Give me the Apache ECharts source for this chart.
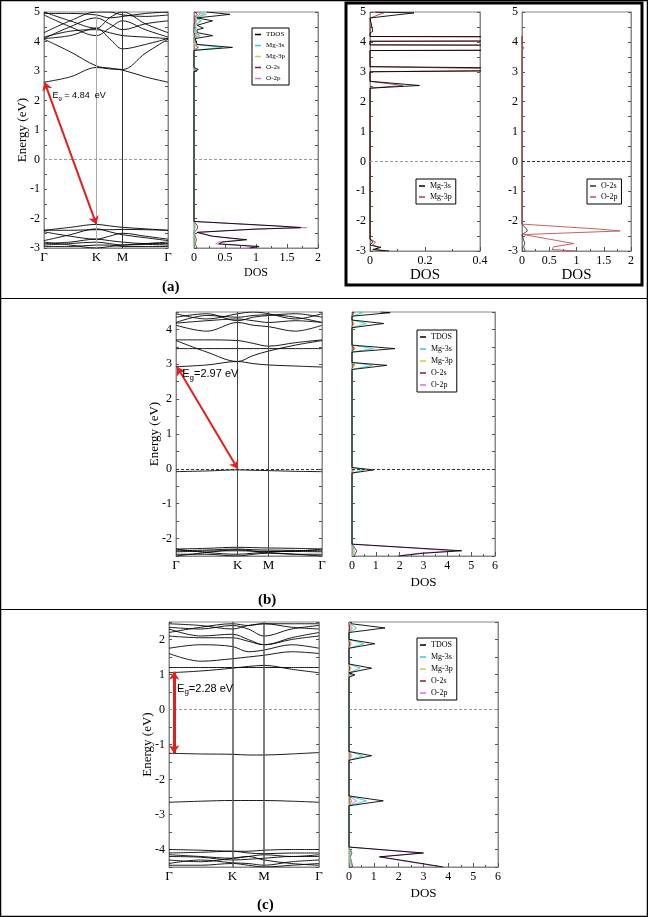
<!DOCTYPE html>
<html>
<head>
<meta charset="utf-8">
<script src="https://cdn.jsdelivr.net/npm/echarts@6/dist/echarts.min.js"></script>
<style>
  html, body { margin: 0; padding: 0; background: #fff; }
  #chart { width: 648px; height: 917px; }
</style>
</head>
<body>
<div id="chart"></div>
<script>
// ── k-path Γ–K–M–Γ (hexagonal BZ, |ΓK| = 1) ────────────────────────────
const kLabels = ["Γ", "K", "M", "Γ"];
const kTicks = [0, 1, 1.5, 2.366];
const kSamples = [0, 0.5, 1, 1.25, 1.5, 1.933, 2.366];

// ── (a) bands, energies (eV) at kSamples ───────────────────────────────
const bandsA = [
  [2.62, 2.8, 3.12, 3.07, 3.03, 2.8, 2.62],
  [4.08, 3.65, 3.17, 3.1, 3.05, 3.6, 4.08],
  [4.1, 4.2, 4.45, 4.1, 3.75, 3.9, 4.1],
  [4.15, 4.35, 4.4, 4.3, 4.2, 4.15, 4.1],
  [4.1, 4.5, 4.8, 4.6, 4.4, 4.6, 4.7],
  [4.9, 4.5, 4.2, 4.45, 4.7, 4.4, 4.15],
  [5.0, 4.7, 4.45, 4.8, 5.0, 4.6, 4.3],
  [4.95, 4.95, 4.9, 4.8, 4.85, 4.95, 5.0],
  [4.3, 4.7, 5.0, 5.0, 4.9, 4.85, 4.9],
  [-2.4, -2.3, -2.2, -2.25, -2.3, -2.35, -2.4],
  [-2.4, -2.4, -2.38, -2.38, -2.37, -2.38, -2.4],
  [-2.75, -2.55, -2.35, -2.45, -2.55, -2.65, -2.75],
  [-2.45, -2.6, -2.7, -2.6, -2.5, -2.6, -2.7],
  [-2.85, -2.8, -2.7, -2.75, -2.8, -2.85, -2.85],
  [-2.9, -2.85, -2.8, -2.85, -2.9, -2.88, -2.9],
  [-2.95, -2.95, -2.9, -2.9, -2.95, -2.95, -2.95],
  [-2.8, -2.9, -3.0, -2.95, -2.9, -2.85, -2.8],
];
const gapA = [[0.01, 2.62], [1, -2.2]];

// ── (b) bands ──────────────────────────────────────────────────────────
const bandsB = [
  [2.93, 2.98, 3.08, 3.02, 2.98, 2.95, 2.92],
  [3.68, 3.35, 3.08, 3.25, 3.38, 3.55, 3.68],
  [3.45, 3.45, 3.45, 3.45, 3.45, 3.45, 3.45],
  [3.7, 3.7, 3.68, 3.6, 3.52, 3.62, 3.7],
  [4.12, 3.95, 4.2, 4.12, 4.08, 3.95, 4.12],
  [4.18, 4.25, 4.3, 4.25, 4.2, 4.25, 4.2],
  [4.2, 4.4, 4.35, 4.4, 4.42, 4.35, 4.2],
  [4.35, 4.45, 4.25, 4.35, 4.4, 4.45, 4.35],
  [4.45, 4.3, 4.45, 4.5, 4.45, 4.3, 4.45],
  [-0.08, -0.06, -0.03, -0.04, -0.05, -0.07, -0.08],
  [-2.3, -2.28, -2.25, -2.26, -2.27, -2.28, -2.3],
  [-2.35, -2.33, -2.3, -2.32, -2.33, -2.34, -2.35],
  [-2.5, -2.4, -2.32, -2.36, -2.4, -2.45, -2.5],
  [-2.3, -2.4, -2.45, -2.42, -2.38, -2.36, -2.3],
  [-2.45, -2.45, -2.5, -2.45, -2.42, -2.45, -2.45],
  [-2.38, -2.36, -2.35, -2.36, -2.37, -2.37, -2.38],
];
const gapB = [[0.02, 2.92], [1, 0]];

// ── (c) bands ──────────────────────────────────────────────────────────
const bandsC = [
  [1.05, 1.1, 1.18, 1.23, 1.26, 1.15, 1.05],
  [1.2, 1.2, 1.2, 1.2, 1.2, 1.2, 1.2],
  [1.6, 1.38, 1.45, 1.5, 1.55, 1.65, 1.6],
  [1.75, 1.85, 1.8, 1.65, 1.7, 1.85, 1.75],
  [2.1, 2.05, 2.05, 1.95, 1.85, 2.0, 2.1],
  [2.3, 2.1, 2.15, 2.0, 1.85, 2.05, 2.2],
  [2.35, 2.3, 2.4, 2.3, 2.1, 2.3, 2.4],
  [2.2, 2.35, 2.45, 2.4, 2.45, 2.35, 2.3],
  [2.45, 2.4, 2.3, 2.4, 2.45, 2.45, 2.45],
  [-1.25, -1.27, -1.28, -1.3, -1.3, -1.27, -1.23],
  [-2.65, -2.62, -2.6, -2.6, -2.6, -2.62, -2.65],
  [-4.0, -4.02, -4.05, -4.05, -4.02, -4.0, -4.0],
  [-4.1, -4.08, -4.05, -4.1, -4.12, -4.1, -4.1],
  [-4.15, -4.2, -4.25, -4.2, -4.15, -4.2, -4.15],
  [-4.2, -4.22, -4.3, -4.28, -4.25, -4.2, -4.2],
  [-4.3, -4.35, -4.25, -4.2, -4.3, -4.4, -4.45],
  [-4.4, -4.3, -4.38, -4.4, -4.45, -4.35, -4.3],
  [-4.45, -4.45, -4.4, -4.45, -4.5, -4.45, -4.4],
];
const gapC = [[0.08, 1.08], [0.08, -1.25]];

// ── (a) DOS ────────────────────────────────────────────────────────────
const eA = [-3.0, -2.95, -2.86, -2.8, -2.72, -2.6, -2.47, -2.36, -2.31, -2.26, -2.1,
  2.55, 2.6, 2.65, 2.98, 3.05, 3.12, 3.7, 3.8, 3.9, 4.1, 4.2, 4.3, 4.4, 4.45, 4.55, 4.7, 4.8, 4.92, 5.0];
const tdosA = [0.9, 1.05, 0.4, 0.45, 0.85, 0.3, 0.05, 1.0, 1.72, 1.4, 0,
  0, 0.03, 0, 0, 0.07, 0, 0, 0.62, 0.05, 0.02, 0.3, 0.05, 0.05, 0.15, 0.05, 0.3, 0.05, 0.58, 0.2];
const mg3sA = [0, 0, 0, 0, 0, 0, 0, 0.01, 0.02, 0.02, 0,
  0, 0.02, 0, 0, 0.04, 0, 0, 0.45, 0.03, 0.01, 0.1, 0.02, 0.02, 0.05, 0.02, 0.12, 0.02, 0.2, 0.05];
const mg3pA = [0.02, 0.03, 0.01, 0.01, 0.02, 0.01, 0, 0.01, 0.02, 0.01, 0,
  0, 0.01, 0, 0, 0.02, 0, 0, 0.05, 0.01, 0, 0.08, 0.01, 0.01, 0.05, 0.01, 0.1, 0.01, 0.15, 0.05];
const o2sA = [0.05, 0.05, 0.02, 0.02, 0.04, 0.02, 0, 0.05, 0.08, 0.06, 0,
  0, 0, 0, 0, 0.01, 0, 0, 0.06, 0.01, 0, 0.02, 0, 0, 0.01, 0, 0.02, 0, 0.05, 0.02];
const o2pA = [0.85, 1.0, 0.35, 0.4, 0.8, 0.28, 0.04, 0.95, 1.82, 1.37, 0,
  0, 0, 0, 0, 0.01, 0, 0, 0.08, 0.01, 0, 0.05, 0, 0, 0.02, 0, 0.05, 0, 0.1, 0.05];

// (a) boxed: Mg and O projected DOS
const eMg = [-3.0, -2.95, -2.88, -2.8, -2.7, -2.6, 2.45, 2.54, 2.68, 3.0, 3.07, 3.17,
  3.71, 3.8, 3.9, 4.02, 4.1, 4.18, 4.3, 4.35, 4.8, 4.97, 5.0];
const mg3sR = [0.07, 0.01, 0.04, 0.0, 0.01, 0, 0, 0.18, 0, 0, 1.2, 0,
  0, 6, 0, 0, 6, 0, 0, 0.01, 0, 0.16, 0.02];
const mg3pR = [0.05, 0.02, 0.03, 0.01, 0.02, 0, 0, 0.12, 0, 0, 0.7, 0,
  0, 3, 0, 0, 3, 0, 0, 0.005, 0, 0.05, 0.01];
const eO = [-3.0, -2.95, -2.86, -2.75, -2.45, -2.33, -2.26, -2.1, 3.75, 3.8, 3.85, 4.1, 4.15, 4.2];
const o2pR = [1.0, 0.55, 0.58, 0.95, 0.03, 1.8, 1.37, 0, 0, 0.04, 0, 0, 0.02, 0];
const o2sR = [0.06, 0.04, 0.03, 0.05, 0, 0.1, 0.08, 0, 0, 0.01, 0, 0, 0.01, 0];

// ── (b) DOS ────────────────────────────────────────────────────────────
const eB = [-2.5, -2.42, -2.35, -2.16, -0.12, -0.03, 0.04, 2.85, 2.97, 3.05,
  3.35, 3.45, 3.55, 4.05, 4.17, 4.27, 4.38, 4.48, 4.5];
const tdosB = [1.95, 3.0, 4.6, 0, 0, 0.9, 0, 0, 1.46, 0, 0, 1.8, 0, 0, 1.33, 0, 0, 1.6, 1.2];
const mg3sB = [0.05, 0.08, 0.1, 0, 0, 0.5, 0, 0, 0.85, 0, 0, 0.9, 0, 0, 0.6, 0, 0, 0.45, 0.3];
const mg3pB = [0.02, 0.03, 0.05, 0, 0, 0.05, 0, 0, 0.1, 0, 0, 0.15, 0, 0, 0.1, 0, 0, 0.12, 0.1];
const o2sB = [0.1, 0.15, 0.2, 0, 0, 0.03, 0, 0, 0.05, 0, 0, 0.08, 0, 0, 0.03, 0, 0, 0.05, 0.04];
const o2pB = [1.9, 2.8, 4.3, 0, 0, 0.1, 0, 0, 0.06, 0, 0, 0.08, 0, 0, 0.05, 0, 0, 0.1, 0.08];

// ── (c) DOS ────────────────────────────────────────────────────────────
const eC = [-4.5, -4.35, -4.21, -4.1, -3.93, -2.75, -2.61, -2.47, -1.45, -1.32, -1.2,
  0.92, 0.99, 1.05, 1.1, 1.18, 1.3, 1.75, 1.88, 2.0, 2.2, 2.33, 2.45, 2.5];
const tdosC = [3.8, 2.5, 1.24, 3.0, 0, 0, 1.38, 0, 0, 0.91, 0,
  0, 0.24, 0, 0, 0.91, 0, 0, 1.04, 0, 0, 1.45, 0.1, 0.05];
const mg3sC = [0.1, 0.08, 0.05, 0.08, 0, 0, 0.7, 0, 0, 0.55, 0,
  0, 0.15, 0, 0, 0.45, 0, 0, 0.6, 0, 0, 0.3, 0.05, 0.02];
const mg3pC = [0.05, 0.04, 0.02, 0.04, 0, 0, 0.1, 0, 0, 0.05, 0,
  0, 0.03, 0, 0, 0.08, 0, 0, 0.1, 0, 0, 0.15, 0.02, 0.01];
const o2sC = [0.15, 0.1, 0.05, 0.12, 0, 0, 0.1, 0, 0, 0.05, 0,
  0, 0.01, 0, 0, 0.03, 0, 0, 0.02, 0, 0, 0.03, 0, 0];
const o2pC = [3.7, 2.4, 1.2, 2.9, 0, 0, 0.3, 0, 0, 0.12, 0,
  0, 0.03, 0, 0, 0.06, 0, 0, 0.08, 0, 0, 0.1, 0.02, 0.01];

const dosNames = ["TDOS", "Mg-3s", "Mg-3p", "O-2s", "O-2p"];

// ── styling ────────────────────────────────────────────────────────────
const SERIF = "'Liberation Serif', 'DejaVu Serif', serif";
const SANS = "'Liberation Sans', Arial, sans-serif";
const COL = { "TDOS": "#000", "Mg-3s": "#3cc8c8", "Mg-3p": "#d8c840", "O-2s": "#8b1a3a", "O-2p": "#d070d8" };
const RED = "#e02020";

const grids = [
  { left: 44, top: 12, width: 124, height: 236 },   // 0 band (a)
  { left: 194, top: 12, width: 124, height: 236 },  // 1 dos (a)
  { left: 370, top: 12, width: 110, height: 239 },  // 2 Mg (a)
  { left: 522, top: 12, width: 109, height: 239 },  // 3 O (a)
  { left: 176, top: 312, width: 146, height: 244 }, // 4 band (b)
  { left: 352, top: 312, width: 143, height: 244 }, // 5 dos (b)
  { left: 169, top: 622, width: 150, height: 245 }, // 6 band (c)
  { left: 349, top: 622, width: 149, height: 245 }, // 7 dos (c)
].map((g) => ({ ...g, show: true, borderColor: "#888", borderWidth: 1, backgroundColor: "transparent" }));

const intLabel = (v) => (Math.abs(v - Math.round(v)) < 1e-6 ? String(Math.round(v)) : "");

function kAxis(gi) {
  return {
    gridIndex: gi, type: "value", min: 0, max: kTicks[3],
    axisLine: { show: true, onZero: false, lineStyle: { color: "#888" } },
    axisTick: { show: false },
    splitLine: { show: false },
    axisLabel: {
      customValues: kTicks, showMinLabel: true, showMaxLabel: true,
      formatter: (v) => kLabels[kTicks.reduce((b, t, i) => (Math.abs(t - v) < Math.abs(kTicks[b] - v) ? i : b), 0)],
      fontFamily: SERIF, fontSize: 13, color: "#000", margin: 3,
    },
  };
}

function dosAxis(gi, max, interval, nameSize, nameGap) {
  return {
    gridIndex: gi, type: "value", min: 0, max, interval,
    axisLine: { show: true, onZero: false, lineStyle: { color: "#888" } },
    axisTick: { inside: true, length: 4, lineStyle: { color: "#555" } },
    minorTick: { show: true, splitNumber: 2, length: 2, lineStyle: { color: "#555" } },
    splitLine: { show: false },
    axisLabel: { fontFamily: SERIF, fontSize: 12, color: "#000", margin: 4 },
    name: "DOS", nameLocation: "middle", nameGap,
    nameTextStyle: { fontFamily: SERIF, fontSize: nameSize, color: "#000" },
  };
}

function eAxis(gi, min, max, position, showLabels, name) {
  return {
    gridIndex: gi, type: "value", min, max, interval: 0.5, position,
    axisLine: { show: true, onZero: false, lineStyle: { color: "#888" } },
    axisTick: { inside: true, length: 3, lineStyle: { color: "#555" } },
    splitLine: { show: false },
    axisLabel: { show: showLabels, formatter: intLabel, fontFamily: SERIF, fontSize: 12, color: "#000", margin: 4 },
    name: name || "", nameLocation: "middle", nameGap: 15, nameRotate: 90, nameMoveOverlap: false,
    nameTextStyle: { fontFamily: SERIF, fontSize: 13, color: "#000" },
  };
}

const xAxis = [
  kAxis(0), dosAxis(1, 2, 0.5, 12, 19), dosAxis(2, 0.4, 0.2, 15, 16), dosAxis(3, 2, 0.5, 15, 16),
  kAxis(4), dosAxis(5, 6, 1, 13, 20), kAxis(6), dosAxis(7, 6, 1, 13, 20),
];
const yRange = [[-3, 5], [-3, 5], [-3, 5], [-3, 5], [-2.5, 4.5], [-2.5, 4.5], [-4.5, 2.5], [-4.5, 2.5]];
const yLabels = [true, false, true, true, true, false, true, false];
const yAxis = [];
yRange.forEach(([lo, hi], gi) => {
  const isBand = gi === 0 || gi === 4 || gi === 6;
  yAxis.push(eAxis(gi, lo, hi, "left", yLabels[gi], isBand ? "Energy (eV)" : ""));
  yAxis.push(eAxis(gi, lo, hi, "right", false, ""));
});

// ── series ─────────────────────────────────────────────────────────────
const series = [];

function addBands(gi, bands, kCol, mCol, kW, fermiCol, gap, gapText, labelOffset, labelSize, arrowW) {
  bands.forEach((b, bi) => {
    const s = {
      type: "line", xAxisIndex: gi, yAxisIndex: 2 * gi, silent: true,
      data: kSamples.map((k, i) => [k, b[i]]),
      smooth: 0.35, showSymbol: false,
      lineStyle: { color: "#000", width: 0.9 }, itemStyle: { color: "#000" },
    };
    if (bi === 0) {
      s.markLine = {
        silent: true, symbol: ["none", "none"], label: { show: false },
        data: [
          { xAxis: kTicks[1], lineStyle: { color: kCol, width: kW, type: "solid" } },
          { xAxis: kTicks[2], lineStyle: { color: mCol, width: kW, type: "solid" } },
          { yAxis: 0, lineStyle: { color: fermiCol, width: 1, type: [3, 2] } },
          [
            { coord: gap[0], symbol: "arrow", symbolSize: 8, lineStyle: { color: RED, width: arrowW, type: "solid" } },
            { coord: gap[1], symbol: "arrow", symbolSize: 8 },
          ],
        ],
      };
      s.markPoint = {
        silent: true, symbol: "circle", symbolSize: 0,
        data: [{ coord: gap[0] }],
        label: {
          show: true, position: "right", offset: labelOffset, lineHeight: labelSize + 2,
          formatter: "{e|E}{g|g}{e|" + gapText + "}",
          rich: {
            e: { fontFamily: SANS, fontSize: labelSize, color: "#000", verticalAlign: "top", lineHeight: labelSize + 2 },
            g: { fontFamily: SANS, fontSize: labelSize - 3, color: "#000", verticalAlign: "bottom", lineHeight: labelSize - 2 },
          },
        },
      };
    }
    series.push(s);
  });
}

addBands(0, bandsA, "#aaa", "#333", 1, "#999", gapA, " = 4.84  eV", [3, 14], 9, 2);
addBands(4, bandsB, "#444", "#444", 1, "#333", gapB, "=2.97 eV", [0, 8], 11, 2);
addBands(6, bandsC, "#555", "#555", 1.5, "#999", gapC, "=2.28 eV", [-2, 18], 11, 3);

function addDos(gi, energies, comps, colors, fermiCol) {
  comps.forEach(([name, vals], ci) => {
    const s = {
      type: "line", name, xAxisIndex: gi, yAxisIndex: 2 * gi, silent: true,
      data: energies.map((e, i) => [vals[i], e]), showSymbol: false, clip: true,
      lineStyle: { color: colors[name], width: 0.9 }, itemStyle: { color: colors[name] },
      z: name === "TDOS" ? 4 : 3,
    };
    if (ci === 0) {
      s.markLine = {
        silent: true, symbol: ["none", "none"], label: { show: false },
        data: [{ yAxis: 0, lineStyle: { color: fermiCol, width: 1, type: [3, 2] } }],
      };
    }
    series.push(s);
  });
}

addDos(1, eA, [["O-2p", o2pA], ["O-2s", o2sA], ["Mg-3p", mg3pA], ["Mg-3s", mg3sA], ["TDOS", tdosA]], COL, "#999");
addDos(2, eMg, [["Mg-3p", mg3pR], ["Mg-3s", mg3sR]], { "Mg-3s": "#000", "Mg-3p": "#b04040" }, "#999");
addDos(3, eO, [["O-2s", o2sR], ["O-2p", o2pR]], { "O-2s": "#333", "O-2p": "#c05050" }, "#333");
addDos(5, eB, [["O-2p", o2pB], ["O-2s", o2sB], ["Mg-3p", mg3pB], ["Mg-3s", mg3sB], ["TDOS", tdosB]], COL, "#333");
addDos(7, eC, [["O-2p", o2pC], ["O-2s", o2sC], ["Mg-3p", mg3pC], ["Mg-3s", mg3sC], ["TDOS", tdosC]], COL, "#999");

// ── legends ────────────────────────────────────────────────────────────
function legendBox(left, top, names, colors, fs, gap) {
  return {
    left, top, orient: "vertical", selectedMode: false, icon: "rect",
    itemWidth: 6, itemHeight: 1.5, itemGap: gap, padding: [3, 4, 3, 3],
    borderColor: "#000", borderWidth: 1,
    data: names.map((n) => ({ name: n, itemStyle: { color: colors[n] } })),
    textStyle: { fontFamily: SERIF, fontSize: fs, color: "#000" },
  };
}
const legend = [
  legendBox(252, 28, dosNames, COL, 7, 4),
  legendBox(416, 179, ["Mg-3s", "Mg-3p"], { "Mg-3s": "#000", "Mg-3p": "#b04040" }, 8, 3),
  legendBox(587, 179, ["O-2s", "O-2p"], { "O-2s": "#333", "O-2p": "#c05050" }, 8, 3),
  legendBox(417, 330, dosNames, COL, 8, 4),
  legendBox(417, 638, dosNames, COL, 8, 4),
];

// ── frames and panel labels ────────────────────────────────────────────
const graphic = [
  { type: "rect", shape: { x: 0.5, y: 0.5, width: 647, height: 916 }, style: { fill: "none", stroke: "#000", lineWidth: 1.5 }, silent: true },
  { type: "line", shape: { x1: 0, y1: 298.5, x2: 648, y2: 298.5 }, style: { stroke: "#000", lineWidth: 1 }, silent: true },
  { type: "line", shape: { x1: 0, y1: 609.5, x2: 648, y2: 609.5 }, style: { stroke: "#000", lineWidth: 1 }, silent: true },
  { type: "rect", shape: { x: 346, y: 3, width: 296, height: 282 }, style: { fill: "none", stroke: "#000", lineWidth: 3 }, silent: true },
  { type: "text", left: 162, top: 280, style: { text: "(a)", font: "bold 15px " + SERIF, fill: "#000" } },
  { type: "text", left: 258, top: 593, style: { text: "(b)", font: "bold 15px " + SERIF, fill: "#000" } },
  { type: "text", left: 257, top: 898, style: { text: "(c)", font: "bold 15px " + SERIF, fill: "#000" } },
];

const chart = echarts.init(document.getElementById("chart"));
chart.setOption({
  animation: false,
  backgroundColor: "#fff",
  grid: grids,
  xAxis,
  yAxis,
  legend,
  series,
  graphic,
});
</script>
</body>
</html>
